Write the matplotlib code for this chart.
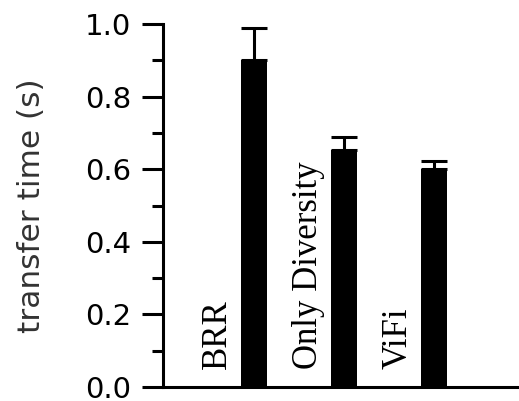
import matplotlib
matplotlib.use("Agg")
import matplotlib.pyplot as plt
import numpy as np

# data
methods = ["BRR", "Only Diversity", "ViFi"]
times = [0.90, 0.653, 0.60]
errs = [0.088, 0.037, 0.022]
yticks = [0.0, 0.2, 0.4, 0.6, 0.8, 1.0]

fig = plt.figure(figsize=(5.19, 4.01), dpi=100)
ax = fig.add_axes([0.314, 0.035, 0.684, 0.905])

x = np.arange(len(methods))
ax.bar(x, times, width=0.29, color="black")
ax.errorbar(x, times, yerr=[np.zeros(len(errs)), errs], fmt="none",
            ecolor="black", elinewidth=2.2, capsize=9.4, capthick=2.2)

# rotated method names next to each bar
for i, name in enumerate(methods):
    ax.text(i - 0.4, 0.05, name, rotation=90, ha="center", va="bottom",
            family="Liberation Serif", fontsize=25)

ax.set_xlim(-1.01, 2.93)
ax.set_ylim(0, 1.0)
ax.set_xticks([])
ax.set_yticks(yticks)
ax.set_yticklabels(["%.1f" % t for t in yticks])
ax.set_yticks(np.arange(0.1, 1.0, 0.2), minor=True)
ax.tick_params(axis="y", which="major", length=15, width=2.2, pad=8,
               labelsize=21, direction="out")
ax.tick_params(axis="y", which="minor", length=8, width=2.2, direction="out")

for s in ["top", "right"]:
    ax.spines[s].set_visible(False)
for s in ["left", "bottom"]:
    ax.spines[s].set_linewidth(2.2)

ax.set_ylabel("transfer time (s)", fontsize=22.5, color="#333333")
ax.yaxis.set_label_coords(-0.33, 0.5)

plt.savefig("out.png", dpi=100)
